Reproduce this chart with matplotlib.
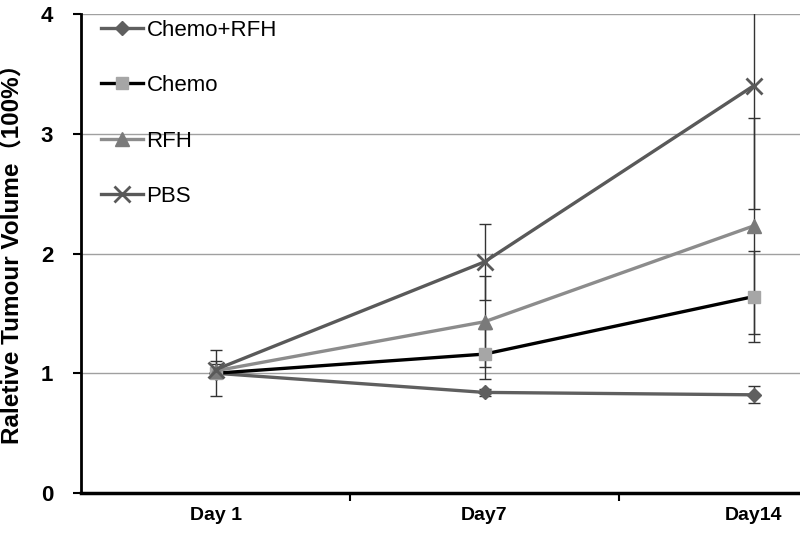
import matplotlib
matplotlib.use("Agg")
import matplotlib.pyplot as plt
import numpy as np

plt.rcParams['font.family'] = ['Liberation Sans', 'Noto Sans CJK SC', 'DejaVu Sans']

days = ["Day 1", "Day7", "Day14"]
chemo_rfh = [1.00, 0.84, 0.82]
chemo_rfh_err = [0.04, 0.03, 0.07]
chemo = [1.00, 1.16, 1.64]
chemo_err = [0.19, 0.21, 0.38]
rfh = [1.02, 1.43, 2.23]
rfh_err = [0.06, 0.38, 0.90]
pbs = [1.03, 1.93, 3.40]
pbs_err = [0.07, 0.32, 1.03]

fig = plt.figure(figsize=(8, 5.34), dpi=100)
ax = fig.add_axes([81/800, 41/534, 1 - 81/800, 479/534])
x = np.arange(1, len(days) + 1)

series = [
    ("Chemo+RFH", chemo_rfh, chemo_rfh_err, "#5f5f5f", "D", "#5f5f5f", 7),
    ("Chemo", chemo, chemo_err, "#000000", "s", "#a6a6a6", 9),
    ("RFH", rfh, rfh_err, "#8c8c8c", "^", "#7a7a7a", 10),
    ("PBS", pbs, pbs_err, "#595959", "x", "#595959", 11),
]
for name, vals, err, lc, mk, mc, ms in series:
    ax.errorbar(x, vals, yerr=err, fmt='none', ecolor='#333333', elinewidth=1.0,
                capsize=4, capthick=1.0, zorder=2)
    ax.plot(x, vals, color=lc, lw=2.4, marker=mk, markersize=ms,
            markerfacecolor=mc, markeredgecolor=mc, markeredgewidth=2 if mk == 'x' else 1,
            label=name, zorder=3)

ax.set_ylim(0, 4)
ax.set_xlim(0.5, 0.5 + (800 - 81) / 269)
ax.set_yticks([0, 1, 2, 3, 4])
ax.set_yticklabels(["0", "1", "2", "3", "4"])
for t in ax.get_yticklabels():
    t.set_fontsize(16)
    t.set_fontweight('bold')
ax.yaxis.grid(True, color='#a0a0a0', lw=1)
ax.set_axisbelow(True)
ax.set_xticks([1.5, 2.5], minor=False)
ax.set_xticklabels([])
ax.set_xticks(x, minor=True)
ax.set_xticklabels(days, minor=True)
for t in ax.get_xticklabels(minor=True):
    t.set_fontsize(14)
    t.set_fontweight('bold')
ax.tick_params(axis='x', which='minor', length=0, pad=10)
ax.tick_params(axis='x', which='major', length=6, width=1.5, direction='out')
ax.tick_params(axis='y', length=6, width=1.5, direction='out', pad=14)
for s in ['top', 'right']:
    ax.spines[s].set_visible(False)
ax.spines['left'].set_linewidth(2)
ax.spines['bottom'].set_linewidth(2.5)

ax.set_ylabel("Raletive Tumour Volume（100%）", fontsize=17.5, fontweight='bold')
ax.yaxis.set_label_coords(-56/719, 0.512)

leg = ax.legend(loc='upper left', frameon=False, fontsize=16, labelspacing=1.55,
                handlelength=1.9, handletextpad=0.15, bbox_to_anchor=(0.0, 1.03),
                borderaxespad=0.5)

fig.savefig("out.png", dpi=100)
